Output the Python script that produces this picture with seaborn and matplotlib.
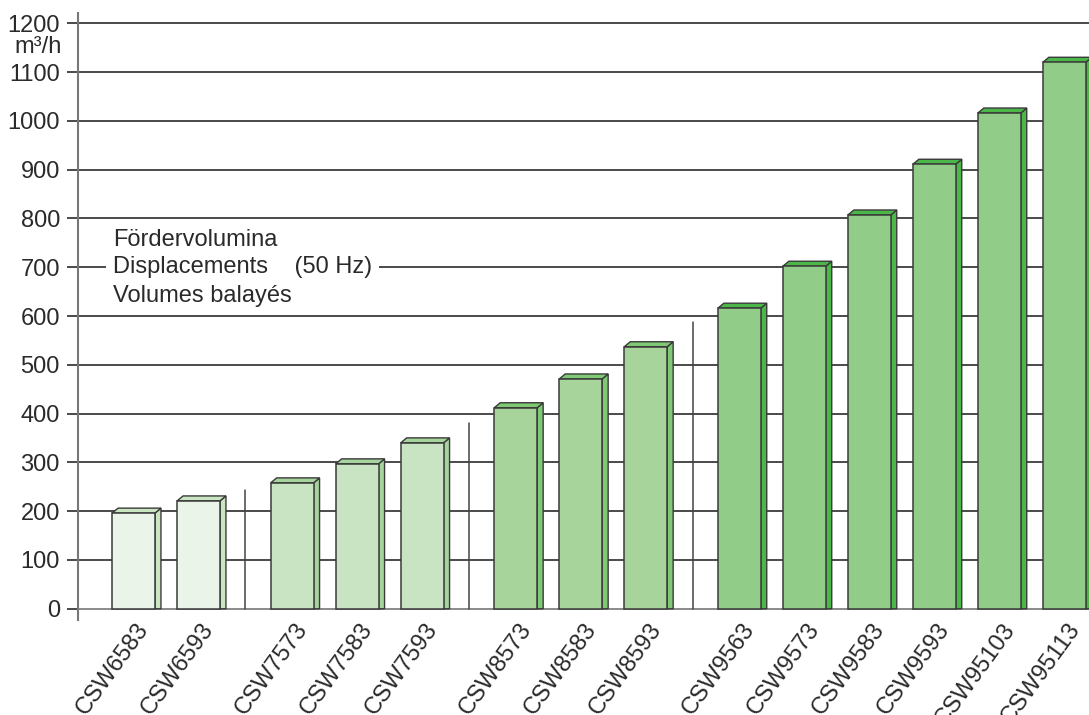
import numpy as np
import pandas as pd
import matplotlib
matplotlib.use("Agg")
import matplotlib.pyplot as plt
import matplotlib.transforms as mtransforms
from matplotlib.patches import Polygon
import seaborn as sns

# --- chart data ---
models = ["CSW6583", "CSW6593", "CSW7573", "CSW7583", "CSW7593",
          "CSW8573", "CSW8583", "CSW8593",
          "CSW9563", "CSW9573", "CSW9583", "CSW9593", "CSW95103", "CSW95113"]
displacement = [196, 221, 258, 297, 340, 412, 471, 537,
                616, 702, 807, 911, 1016, 1120]
series = [65, 65, 75, 75, 75, 85, 85, 85, 95, 95, 95, 95, 95, 95]
y_ticks = [0, 100, 200, 300, 400, 500, 600, 700, 800, 900, 1000, 1100, 1200]
legend_lines = ["Fördervolumina", "Displacements    (50 Hz)", "Volumes balayés"]
div_tops = [244, 381, 588]  # heights of the separator lines between series

# front / side colours per series
front_col = {65: "#eaf4e8", 75: "#c8e4c2", 85: "#a6d49b", 95: "#91cd89"}
side_col = {65: "#c9e5c1", 75: "#a6d49d", 85: "#7fc874", 95: "#4bb749"}

# x positions: one slot per model, plus a gap between series
group_idx = pd.Series(series).rank(method="dense").astype(int) - 1
xpos = np.arange(len(models)) + 0.44 * group_idx.values

df = pd.DataFrame({"model": models, "value": displacement,
                   "series": series, "x": xpos})

sns.set_style("white")
plt.rcParams["font.family"] = ["Liberation Sans", "DejaVu Sans"]

fig = plt.figure(figsize=(10.89, 7.15), dpi=100)
ax = fig.add_axes([78 / 1089, 95 / 715, 1 - 78 / 1089, 607 / 715])

sns.barplot(data=df, x="x", y="value", hue="series", native_scale=True,
            palette=front_col, saturation=1, dodge=False, width=0.66,
            legend=False, edgecolor="#3a3a3a", linewidth=1.1, zorder=3, ax=ax)

ax.set_xlim(-0.854, 14.70)
ax.set_ylim(-23, 1221)

# grid lines
for t in y_ticks:
    ax.axhline(t, color="#2b2b2b" if t else "#777777", lw=1.2, zorder=1)

# 3D depth in data units (6px right, 5px up)
p0 = ax.transData.transform((0, 0))
p1 = ax.transData.transform((1, 100))
dx = 6 / (p1[0] - p0[0])
dy = 5 / (p1[1] - p0[1]) * 100

for bar in list(ax.patches):
    x0 = bar.get_x()
    w = bar.get_width()
    h = bar.get_height()
    x1 = x0 + w
    cx = x0 + w / 2
    grp = df.loc[(df["x"] - cx).abs().idxmin(), "series"]
    col = side_col[grp]
    side = Polygon([(x1, 0), (x1 + dx, 0), (x1 + dx, h + dy), (x1, h)],
                   closed=True, fc=col, ec="#3a3a3a", lw=1.0, zorder=2.9)
    top = Polygon([(x0, h), (x0 + dx, h + dy), (x1 + dx, h + dy), (x1, h)],
                  closed=True, fc=col, ec="#3a3a3a", lw=1.0, zorder=2.9)
    ax.add_patch(side)
    ax.add_patch(top)

# dividers between series
for g, top_v in enumerate(div_tops):
    last = df.index[group_idx == g][-1]
    mid = (xpos[last] + xpos[last + 1]) / 2
    ax.plot([mid, mid], [0, top_v], color="#444444", lw=1.1, zorder=2)

# axes styling
for s in ["top", "right", "bottom"]:
    ax.spines[s].set_visible(False)
ax.spines["left"].set_color("#777777")
ax.spines["left"].set_linewidth(1.5)
ax.spines["left"].set_zorder(4)

txt_col = "#2a2a2a"
ax.set_yticks(y_ticks)
ax.set_yticklabels([str(t) for t in y_ticks], fontsize=17, color=txt_col)
ax.tick_params(axis="y", length=8, width=1.2, color="#2b2b2b", pad=5, left=True)

ax.set_xticks(xpos)
ax.set_xticklabels(models, fontsize=17, color=txt_col, rotation=54,
                   ha="right", va="center", rotation_mode="anchor")
ax.tick_params(axis="x", length=0, pad=4)
offset = mtransforms.ScaledTranslation(11 / 100, 0, fig.dpi_scale_trans)
for lbl in ax.get_xticklabels():
    lbl.set_transform(lbl.get_transform() + offset)
ax.set_xlabel("")
ax.set_ylabel("")

fig.text(62 / 1089, 1 - 47 / 715, "m³/h", ha="right", va="center",
         fontsize=17, color=txt_col)

# legend-style caption
ax.text(-0.315, 755, legend_lines[0], fontsize=17, color=txt_col,
        ha="left", va="center", zorder=5)
ax.text(-0.315, 700, legend_lines[1], fontsize=17, color=txt_col,
        ha="left", va="center", zorder=5,
        bbox=dict(boxstyle="square,pad=0.3", fc="white", ec="none"))
ax.text(-0.315, 640, legend_lines[2], fontsize=17, color=txt_col,
        ha="left", va="center", zorder=5)

fig.savefig("out.png", dpi=100)
